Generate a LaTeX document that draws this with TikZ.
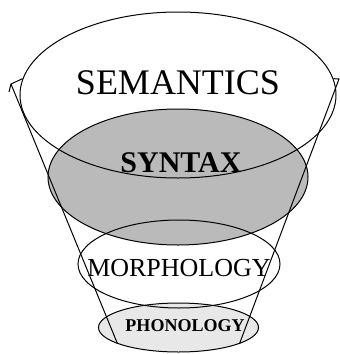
\documentclass[tikz,border=0pt]{standalone}
\usepackage{fontspec}
\setmainfont{Liberation Serif}
\usepackage{tikz}
\usetikzlibrary{shapes.geometric, backgrounds}
\definecolor{syngray}{gray}{0.73}
\definecolor{phongray}{gray}{0.91}
\tikzset{
  levelring/.style={
    ellipse, draw, line width=1pt, inner sep=0pt
  },
  levellabel/.style={
    inner sep=0pt, font=\rmfamily
  },
  coneside/.style={
    line width=1pt, line join=miter
  },
}

\begin{document}
\begin{tikzpicture}[x=1pt, y=-1pt]
  \useasboundingbox (0,0) rectangle (340,354);

  % === Rings of the funnel ===
  \node[levelring, minimum width=316pt, minimum height=166pt] (sem) at (178,95) {};
  \node[levelring, minimum width=260pt, minimum height=136pt] (syn) at (178,177) {};
  \node[levelring, minimum width=202pt, minimum height=88pt] (mor) at (179,264) {};
  \node[levelring, minimum width=160pt, minimum height=49pt] (pho) at (178.5,327.5) {};

  % === Fills behind the outlines ===
  \begin{scope}[on background layer]
    \fill[syngray] (syn.center) ellipse [x radius=130pt, y radius=68pt];
    \fill[phongray] (pho.center) ellipse [x radius=80pt, y radius=24.5pt];
  \end{scope}

  % === Labels ===
  \node[levellabel, font=\fontsize{36}{36}\selectfont] (semtxt) at (178,83) {SEMANTICS};
  \node[levellabel, font=\fontsize{30}{30}\selectfont\bfseries] (syntxt) at (181,163) {SYNTAX};
  \node[levellabel, font=\fontsize{26}{26}\selectfont] (mortxt) at (179,268) {MORPHOLOGY};
  \node[levellabel, font=\fontsize{18}{18}\selectfont\bfseries] (photxt) at (185,326) {PHONOLOGY};

  % === Sides of the funnel ===
  \coordinate (ltip) at (11,84);
  \coordinate (lbarb) at (9,92);
  \coordinate (rtip) at (339,79);

  \draw[coneside] (lbarb) -- (ltip) -- (sem.174);
  \draw[coneside] (ltip) -- (pho.195);
  \draw[coneside] (sem.6) -- (rtip) -- (pho.-15);

\end{tikzpicture}
\end{document}
